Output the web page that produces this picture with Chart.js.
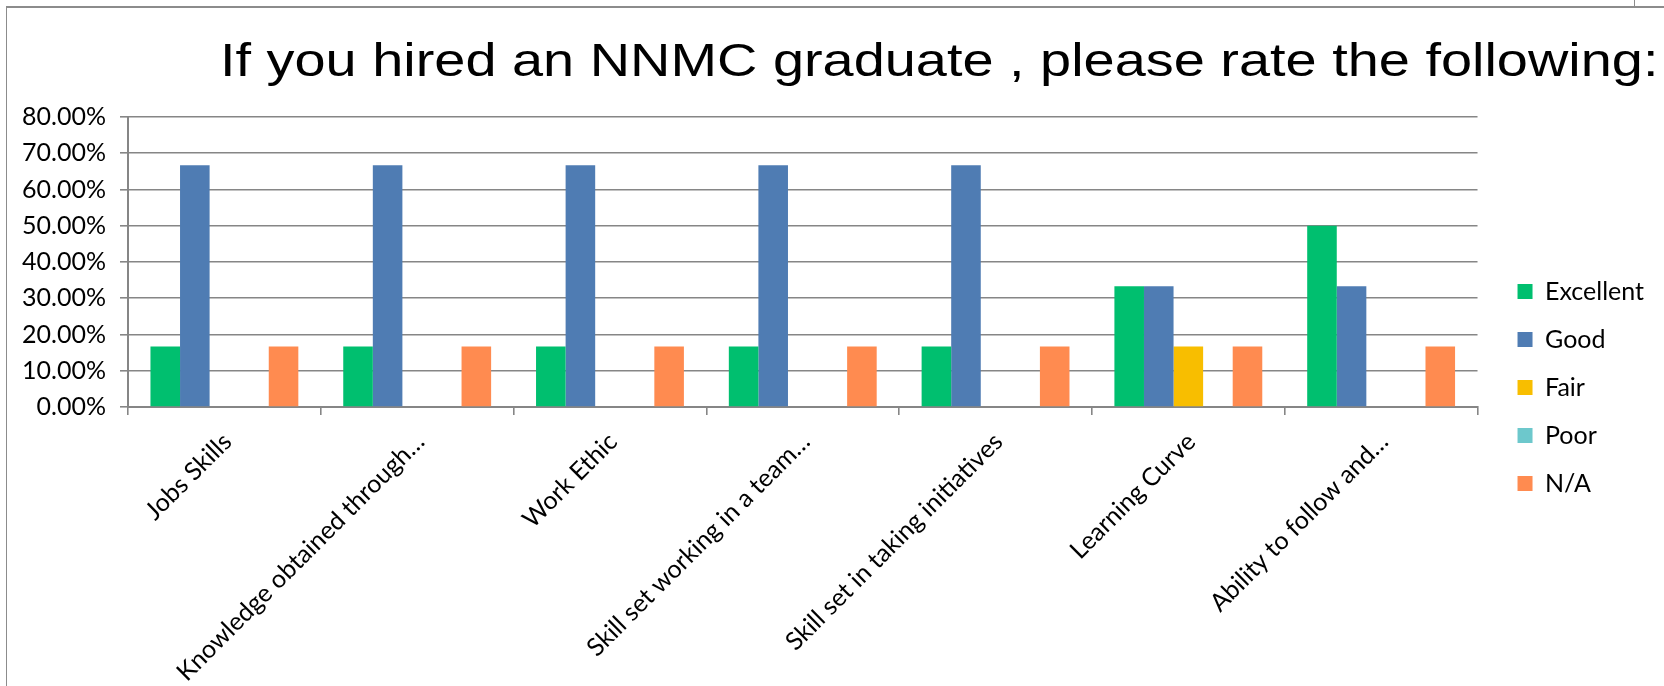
<!DOCTYPE html>
<html>
<head>
<meta charset="utf-8">
<script src="https://cdn.jsdelivr.net/npm/chart.js@4"></script>
<style>
    body { margin: 0; background: #fff; }
    #wrap { position: relative; width: 1664px; height: 686px; overflow: hidden; }
    #barChart { position: absolute; left: 0; top: 0; }
    .frameTop { position: absolute; left: 6px; top: 6px; width: 1658px; height: 2px; background: #8c8c8c; }
    .frameLeft { position: absolute; left: 6px; top: 6px; width: 1px; height: 680px; background: #8c8c8c; }
    .nub { position: absolute; left: 1634px; top: 0; width: 1px; height: 7px; background: #8c8c8c; }
</style>
</head>
<body>
<div id="wrap">
    <canvas id="barChart" width="1664" height="686"></canvas>
    <div class="frameTop"></div>
    <div class="frameLeft"></div>
    <div class="nub"></div>
</div>
<script>

// Data

const chartTitle = "If you hired an NNMC graduate , please rate the following:";

const categories = [
    "Jobs Skills",
    "Knowledge obtained through…",
    "Work Ethic",
    "Skill set working in a team…",
    "Skill set in taking initiatives",
    "Learning Curve",
    "Ability to follow and…"
];

const excellent = [0.1667, 0.1667, 0.1667, 0.1667, 0.1667, 0.3333, 0.5];
const good = [0.6667, 0.6667, 0.6667, 0.6667, 0.6667, 0.3333, 0.3333];
const fair = [0, 0, 0, 0, 0, 0.1667, 0];
const poor = [0, 0, 0, 0, 0, 0, 0];
const notApplicable = [0.1667, 0.1667, 0.1667, 0.1667, 0.1667, 0.1667, 0.1667];

const yMax = 0.8;
const yStep = 0.1;


// Styles

const gridGrey = "#868686";
const tickFont = { family: "Lato", size: 25 };
const legendPad = 23;
const legendBox = 15;
const plotRight = 1478;
const plotBottom = 407;

// legend width, so the plot ends where it should
let measure = document.createElement("canvas").getContext("2d");
measure.font = "25px Lato";
let legendWidth = legendPad + legendBox + 12.5 + measure.measureText("Excellent").width + 10;
let rightPad = Math.round(1664 - plotRight - legendWidth);


// Title drawn a bit wider than tall, like the original picture

const stretchedTitle = {
    id: "stretchedTitle",
    afterDraw(chart) {
        const ctx = chart.ctx;
        ctx.save();
        ctx.font = "46px 'Liberation Sans', Arial, sans-serif";
        ctx.fillStyle = "#000";
        ctx.textAlign = "left";
        ctx.textBaseline = "alphabetic";
        ctx.translate(220, 76);
        ctx.scale(1.215, 1);
        ctx.fillText(chartTitle, 0, 0);
        ctx.restore();
    }
};

// Move the legend a little right and up

const legendShift = {
    id: "legendShift",
    afterLayout(chart) {
        chart.legend.left += 17;
        chart.legend.right += 17;
        chart.legend.top -= 14;
        chart.legend.bottom -= 14;
    }
};


// Bar Chart

new Chart(document.getElementById("barChart"), {

    type: "bar",

    data: {

        labels: categories,

        datasets: [
            { label: "Excellent", data: excellent, backgroundColor: "#00BF6F" },
            { label: "Good", data: good, backgroundColor: "#4F7CB3" },
            { label: "Fair", data: fair, backgroundColor: "#F8BE00" },
            { label: "Poor", data: poor, backgroundColor: "#6DC8CC" },
            { label: "N/A", data: notApplicable, backgroundColor: "#FF8B50" }
        ]
    },

    options: {
        responsive: false,
        animation: false,
        devicePixelRatio: 1,
        datasets: {
            bar: { barPercentage: 1, categoryPercentage: 0.767 }
        },
        layout: {
            padding: { top: 117, bottom: 0, left: 0, right: rightPad }
        },
        plugins: {
            title: { display: false },
            tooltip: { enabled: false },
            legend: {
                position: "right",
                labels: {
                    boxWidth: legendBox,
                    boxHeight: legendBox,
                    padding: legendPad,
                    color: "#000",
                    font: { family: "Lato", size: 25 }
                }
            }
        },
        scales: {
            x: {
                afterFit(scale) { scale.height = 686 - plotBottom; },
                grid: {
                    offset: true,
                    drawOnChartArea: false,
                    drawTicks: true,
                    tickLength: 8,
                    color: gridGrey,
                    lineWidth: 1.6
                },
                border: { color: gridGrey, width: 2 },
                ticks: {
                    autoSkip: false,
                    minRotation: 45,
                    maxRotation: 45,
                    padding: 12,
                    labelOffset: 3,
                    color: "#000",
                    font: tickFont
                }
            },
            y: {
                min: 0,
                max: yMax,
                afterFit(scale) { scale.width = 128; },
                grid: {
                    color: gridGrey,
                    lineWidth: 1.6,
                    tickLength: 8
                },
                border: { color: gridGrey, width: 2 },
                ticks: {
                    stepSize: yStep,
                    padding: 14,
                    color: "#000",
                    font: tickFont,
                    callback: function (value) {
                        return (value * 100).toFixed(2) + "%";
                    }
                }
            }
        }
    },

    plugins: [stretchedTitle, legendShift]

});

</script>
</body>
</html>
